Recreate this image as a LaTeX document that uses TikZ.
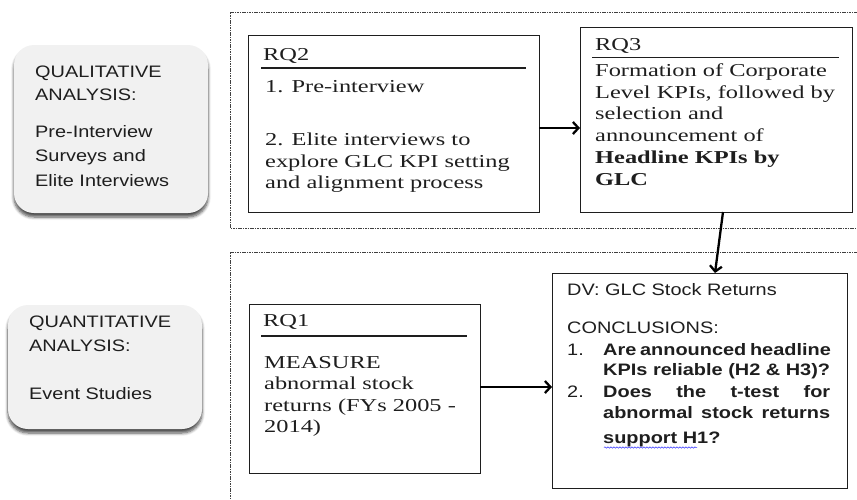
\documentclass[tikz,border=0pt]{standalone}
\usepackage{fontspec}
\setmainfont{Liberation Serif}[FakeStretch=1.34]
\setsansfont{Liberation Sans}[FakeStretch=1.2]
\usetikzlibrary{arrows.meta,shadows.blur,decorations.pathmorphing}
\definecolor{boxfill}{HTML}{F1F1F1}
\definecolor{txt}{HTML}{1E1E1E}
\tikzset{
  side/.style={fill=boxfill, rounded corners=20pt, inner sep=0pt, outer sep=0pt, anchor=north west,
    blur shadow={shadow xshift=0pt, shadow yshift=-4pt, shadow blur steps=6, shadow blur radius=3pt, shadow opacity=70}},
  rqbox/.style={draw=txt, line width=1pt, inner sep=0pt, outer sep=0pt, anchor=north west},
  zone/.style={draw=black!75, line width=0.8pt, dash pattern=on 1.6pt off 0.8pt},
  sertxt/.style={anchor=base west, inner sep=0pt, text=txt, font=\fontsize{18.2}{21}\selectfont},
  sertxtb/.style={sertxt, font=\fontsize{18.2}{21}\selectfont\bfseries},
  sanstxt/.style={anchor=base west, inner sep=0pt, text=txt, font=\sffamily\fontsize{16.6}{19}\selectfont},
  sanstxtb/.style={sanstxt, font=\sffamily\bfseries\fontsize{16.6}{19}\selectfont},
  rule/.style={line width=1.6pt, draw=txt},
  arr/.style={line width=2.3pt, draw=black, -{Straight Barb[length=5.5pt,width=12pt]}}
}
\begin{document}
\begin{tikzpicture}[x=1pt,y=-1pt]
\useasboundingbox (0,0) rectangle (857,499);
% dashed zones
\draw[zone] (870,12) -- (230,12) -- (230,228) -- (870,228);
\draw[zone] (870,252) -- (230,252) -- (230,510);

% side boxes
\node[side, minimum width=194pt, minimum height=168pt] (qual) at (14,45) {};
\node[sanstxt] (q1) at (35,77) {QUALITATIVE};
\node[sanstxt] (q2) at (35,100) {ANALYSIS:};
\node[sanstxt] (q3) at (35,137) {Pre-Interview};
\node[sanstxt] (q4) at (35,161) {Surveys and};
\node[sanstxt] (q5) at (35,186) {Elite Interviews};

\node[side, minimum width=194pt, minimum height=124pt] (quan) at (8,305) {};
\node[sanstxt] (n1) at (29,327) {QUANTITATIVE};
\node[sanstxt] (n2) at (29,351) {ANALYSIS:};
\node[sanstxt] (n3) at (29,399) {Event Studies};

% RQ2
\node[rqbox, minimum width=291pt, minimum height=177pt] (rq2) at (248,35) {};
\node[sertxt] (rq2h) at (263,60.5) {RQ2};
\draw[rule] (261,68) -- (526,68);
\node[sertxt] (rq2a) at (265,92) {1. Pre-interview};
\node[sertxt] (rq2b) at (265,145.5) {2. Elite interviews to};
\node[sertxt] (rq2c) at (265,167) {explore GLC KPI setting};
\node[sertxt] (rq2d) at (265,188.5) {and alignment process};

% RQ3
\node[rqbox, minimum width=272pt, minimum height=185pt] (rq3) at (580,27) {};
\node[sertxt] (rq3h) at (595,50) {RQ3};
\draw[rule] (592,57.5) -- (839,57.5);
\node[sertxt] (rq3a) at (595,76) {Formation of Corporate};
\node[sertxt] (rq3b) at (595,98) {Level KPIs, followed by};
\node[sertxt] (rq3c) at (595,119.5) {selection and};
\node[sertxt] (rq3d) at (595,141) {announcement of};
\node[sertxtb] (rq3e) at (595,163) {Headline KPIs by};
\node[sertxtb] (rq3f) at (595,185) {GLC};

% RQ1
\node[rqbox, minimum width=231pt, minimum height=169pt] (rq1) at (249,304) {};
\node[sertxt] (rq1h) at (263,326) {RQ1};
\draw[rule] (261,336) -- (467,336);
\node[sertxt] (rq1a) at (264,368) {MEASURE};
\node[sertxt] (rq1b) at (264,389.5) {abnormal stock};
\node[sertxt] (rq1c) at (264,411) {returns (FYs 2005 -};
\node[sertxt] (rq1d) at (264,432.5) {2014)};

% DV
\node[rqbox, minimum width=295pt, minimum height=215pt] (dv) at (552,273) {};
\node[sanstxt] (dvh) at (567,295) {DV: GLC Stock Returns};
\node[sanstxt] (dvc) at (567,333.5) {CONCLUSIONS:};
\node[sanstxt] (dv1n) at (567,355) {1.};
\node[sanstxtb] (dv1a) at (603,355) {\makebox[227pt][s]{Are announced headline}};
\node[sanstxtb] (dv1b) at (603,375.5) {KPIs reliable (H2 \& H3)?};
\node[sanstxt] (dv2n) at (567,397) {2.};
\node[sanstxtb] (dv2a) at (603,397) {\makebox[227pt][s]{Does the t-test for}};
\node[sanstxtb] (dv2b) at (603,418) {\makebox[227pt][s]{abnormal stock returns}};
\node[sanstxtb] (dv2c) at (603,443.5) {support H1?};
\draw[blue!80, line width=0.5pt, decorate, decoration={snake, amplitude=0.7pt, segment length=3pt}] (604,447.5) -- (697,447.5);

% connectors
\draw[arr] ([yshift=-4.5pt]rq2.east) -- ([yshift=-4.5pt]rq2.east -| rq3.west);
\draw[arr] ([xshift=143pt]rq3.south west) -- ([xshift=163pt]dv.north west);
\draw[arr] ([yshift=1.5pt]rq1.east) -- ([yshift=1.5pt]rq1.east -| dv.west);
\end{tikzpicture}
\end{document}
